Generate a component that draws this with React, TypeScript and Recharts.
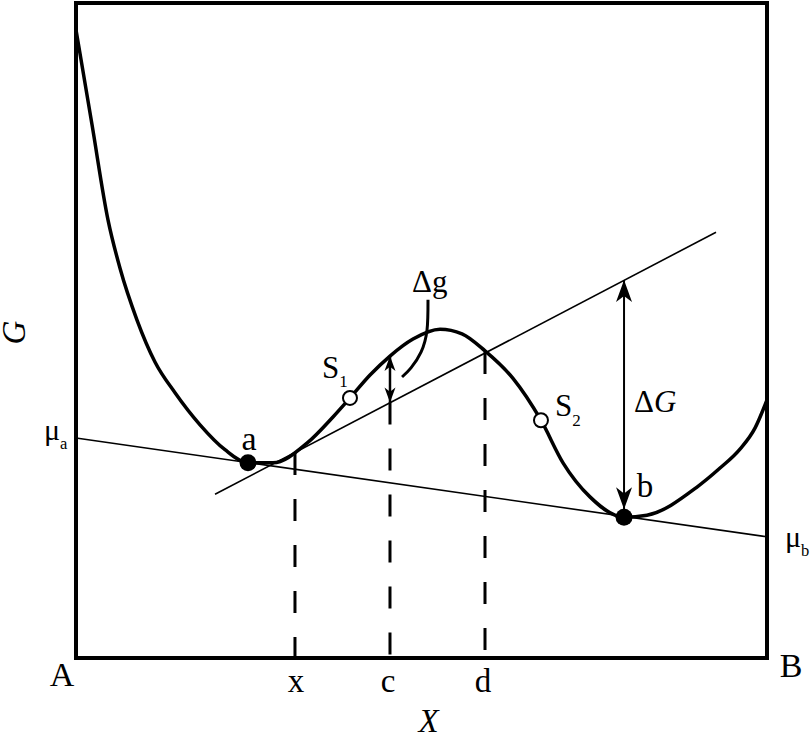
import React from "react";
import {
  ComposedChart,
  Line,
  XAxis,
  YAxis,
  ReferenceLine,
  ReferenceDot,
  ReferenceArea,
} from "recharts";

// G(X) curve (X: 0 = A, 1 = B; G in arbitrary units 0..100)
const curveX = [
  0, 0.0232, 0.0463, 0.0637, 0.0883, 0.1143, 0.1433, 0.1795, 0.2156, 0.2489, 0.2851, 0.3343,
  0.3719, 0.3965, 0.4255, 0.4544, 0.4877, 0.5268, 0.5586, 0.5919, 0.6324, 0.6729, 0.7048,
  0.7438, 0.7931, 0.8263, 0.8987, 0.932, 0.9609, 0.9826, 1,
];
const curveG = [
  95.9, 81.4, 66.9, 59.5, 51.6, 45.2, 40.5, 35.6, 31.8, 29.8, 29.8, 32.8, 36.8, 39.7, 43.2,
  46.1, 48.7, 50.2, 49.5, 46.9, 42.7, 36.3, 29.8, 24.6, 21.5, 21.8, 26.1, 29.0, 31.9, 35.1, 39.4,
];

// common tangent through a and b (mu_a at X=0, mu_b at X=1)
const muLineX = [0, 1];
const muLineG = [33.6, 18.5];
// tangent through x
const tanLineX = [0.2012, 0.9262];
const tanLineG = [25.0, 65.0];

// compositions marked on the X axis and where their dashed lines start
const markX = [0.3169, 0.4544, 0.5919];
const markLabels = ["x", "c", "d"];
const markTop = [31.3, 39.0, 46.7];

// pure components at the ends of the X axis
const endX = [0, 1];
const endLabels = ["A", "B"];

// equilibrium minima and spinodal points
const pointA = { X: 0.2489, G: 29.8 };
const pointB = { X: 0.7931, G: 21.5 };
const pointS1 = { X: 0.3965, G: 39.7 };
const pointS2 = { X: 0.6729, G: 36.3 };

// delta g (at c) and delta G (at b)
const dgArrow = { X: 0.4544, top: 46.1, bottom: 39.0 };
const bigArrow = { X: 0.7931, top: 57.7, bottom: 21.5 };

// leader from the delta g label
const leaderX = [0.5094, 0.508, 0.4993, 0.4848, 0.4718];
const leaderG = [54.7, 50.1, 46.7, 44.3, 42.9];

const curve = curveX.map((X, i) => ({ X, G: curveG[i] }));
const leader = leaderX.map((X, i) => ({ X, G: leaderG[i] }));

const FONT = "'Liberation Serif', 'Times New Roman', serif";

// x, c, d under the axis
const XTick = (props: any) => {
  const i = markX.indexOf(props.payload.value);
  const text = markLabels[i] ?? "";
  const dx = text === "x" ? 1 : -2;
  return (
    <text x={props.x + dx} y={props.y + 34} textAnchor="middle" fontFamily={FONT} fontSize={33} fill="#000">
      {text}
    </text>
  );
};

const arrowHead = (dir: "up" | "down", len: number, w: number) => (p: any) => {
  const s = dir === "up" ? 1 : -1;
  const { cx, cy } = p;
  const d = `M${cx},${cy} L${cx - w / 2},${cy + s * len} L${cx},${cy + s * len * 0.72} L${cx + w / 2},${cy + s * len} Z`;
  return <path d={d} fill="#000" stroke="none" />;
};

const textTag =
  (main: string, sub: string | null, dx: number, dy: number, size: number, anchor = "start", italicTail = false) =>
  (p: any) => (
    <text x={p.cx + dx} y={p.cy + dy} textAnchor={anchor} fontFamily={FONT} fontSize={size} fill="#000">
      {italicTail ? (
        <>
          <tspan>{main.slice(0, 1)}</tspan>
          <tspan fontStyle="italic">{main.slice(1)}</tspan>
        </>
      ) : (
        main
      )}
      {sub && (
        <tspan fontSize={size * 0.55} dy={size * 0.3}>
          {sub}
        </tspan>
      )}
    </text>
  );

const filledDot = (p: any) => <circle cx={p.cx} cy={p.cy} r={8.5} fill="#000" />;
const openDot = (p: any) => <circle cx={p.cx} cy={p.cy} r={7} fill="#fff" stroke="#000" strokeWidth={2} />;

export default function App() {
  return (
    <div style={{ position: "absolute", left: 0, top: 0, background: "#fff" }}>
      <ComposedChart width={810} height={735} data={curve} margin={{ top: 3, right: 43, bottom: 0, left: 0 }}>
        <XAxis
          type="number"
          dataKey="X"
          domain={[0, 1]}
          ticks={markX}
          interval={0}
          height={77}
          tickSize={0}
          tickMargin={0}
          axisLine={false}
          tickLine={false}
          tick={XTick}
          allowDataOverflow
          label={(p: any) => {
            const vb = p.viewBox;
            return (
              <text x={vb.x + vb.width / 2 + 7} y={vb.y + 74} textAnchor="middle" fontFamily={FONT} fontSize={33} fontStyle="italic" fill="#000">
                X
              </text>
            );
          }}
        />
        <YAxis
          type="number"
          domain={[0, 100]}
          width={76}
          tick={false}
          axisLine={false}
          tickLine={false}
          allowDataOverflow
          label={(p: any) => {
            const vb = p.viewBox;
            const cy = vb.y + vb.height / 2 + 2;
            return (
              <text x={25} y={cy} transform={`rotate(-90, 25, ${cy})`} textAnchor="middle" fontFamily={FONT} fontSize={33} fontStyle="italic" fill="#000">
                G
              </text>
            );
          }}
        />

        <ReferenceArea x1={0} x2={1} y1={0} y2={100} fill="none" fillOpacity={0} stroke="#000" strokeWidth={4} />

        <ReferenceLine
          segment={[
            { x: muLineX[0], y: muLineG[0] },
            { x: muLineX[1], y: muLineG[1] },
          ]}
          stroke="#000"
          strokeWidth={1.6}
        />
        <ReferenceLine
          segment={[
            { x: tanLineX[0], y: tanLineG[0] },
            { x: tanLineX[1], y: tanLineG[1] },
          ]}
          stroke="#000"
          strokeWidth={1.6}
        />

        {markX.map((X, i) => (
          <ReferenceLine
            key={markLabels[i]}
            segment={[
              { x: X, y: markTop[i] },
              { x: X, y: 0 },
            ]}
            stroke="#000"
            strokeWidth={3}
            strokeDasharray="22 24"
          />
        ))}

        <ReferenceLine
          segment={[
            { x: dgArrow.X, y: dgArrow.top },
            { x: dgArrow.X, y: dgArrow.bottom },
          ]}
          stroke="#000"
          strokeWidth={2.5}
        />
        <ReferenceLine
          segment={[
            { x: bigArrow.X, y: bigArrow.top },
            { x: bigArrow.X, y: bigArrow.bottom },
          ]}
          stroke="#000"
          strokeWidth={2}
        />

        <Line
          type="monotone"
          dataKey="G"
          stroke="#000"
          strokeWidth={3.5}
          dot={false}
          activeDot={false}
          isAnimationActive={false}
        />
        <Line
          data={leader}
          type="natural"
          dataKey="G"
          stroke="#000"
          strokeWidth={3}
          dot={false}
          activeDot={false}
          isAnimationActive={false}
        />

        <ReferenceDot x={dgArrow.X} y={dgArrow.top} r={0} shape={arrowHead("up", 15, 11)} />
        <ReferenceDot x={dgArrow.X} y={dgArrow.bottom} r={0} shape={arrowHead("down", 15, 11)} />
        <ReferenceDot x={bigArrow.X} y={bigArrow.top} r={0} shape={arrowHead("up", 22, 16)} />
        <ReferenceDot x={bigArrow.X} y={bigArrow.bottom + 1.2} r={0} shape={arrowHead("down", 22, 16)} />

        <ReferenceDot x={pointA.X} y={pointA.G} r={8.5} shape={filledDot} />
        <ReferenceDot x={pointB.X} y={pointB.G} r={8.5} shape={filledDot} />
        <ReferenceDot x={pointS1.X} y={pointS1.G} r={7} shape={openDot} />
        <ReferenceDot x={pointS2.X} y={pointS2.G} r={7} shape={openDot} />

        <ReferenceDot x={pointA.X} y={pointA.G} r={0} shape={textTag("a", null, 1, -13, 34, "middle")} />
        <ReferenceDot x={pointB.X} y={pointB.G} r={0} shape={textTag("b", null, 21, -20, 33, "middle")} />
        <ReferenceDot x={pointS1.X} y={pointS1.G} r={0} shape={textTag("S", "1", -28, -20, 31)} />
        <ReferenceDot x={pointS2.X} y={pointS2.G} r={0} shape={textTag("S", "2", 14, -4, 31)} />
        <ReferenceDot x={leaderX[0]} y={leaderG[0]} r={0} shape={textTag("\u0394g", null, -16, -8, 31)} />
        <ReferenceDot
          x={bigArrow.X}
          y={(bigArrow.top + bigArrow.bottom) / 2}
          r={0}
          shape={textTag("\u0394G", null, 10, 13.5, 31, "start", true)}
        />
        <ReferenceDot x={muLineX[0]} y={muLineG[0]} r={0} ifOverflow="visible" shape={textTag("\u03bc", "a", -32, 2, 30)} />
        <ReferenceDot x={muLineX[1]} y={muLineG[1]} r={0} ifOverflow="visible" shape={textTag("\u03bc", "b", 18, 10, 30)} />

        {/* A and B sit just outside the bottom corners */}
        <ReferenceDot x={endX[0]} y={0} r={0} ifOverflow="visible" shape={textTag(endLabels[0], null, -14, 28, 34, "middle")} />
        <ReferenceDot x={endX[1]} y={0} r={0} ifOverflow="visible" shape={textTag(endLabels[1], null, 24, 19, 34, "middle")} />
      </ComposedChart>
    </div>
  );
}
